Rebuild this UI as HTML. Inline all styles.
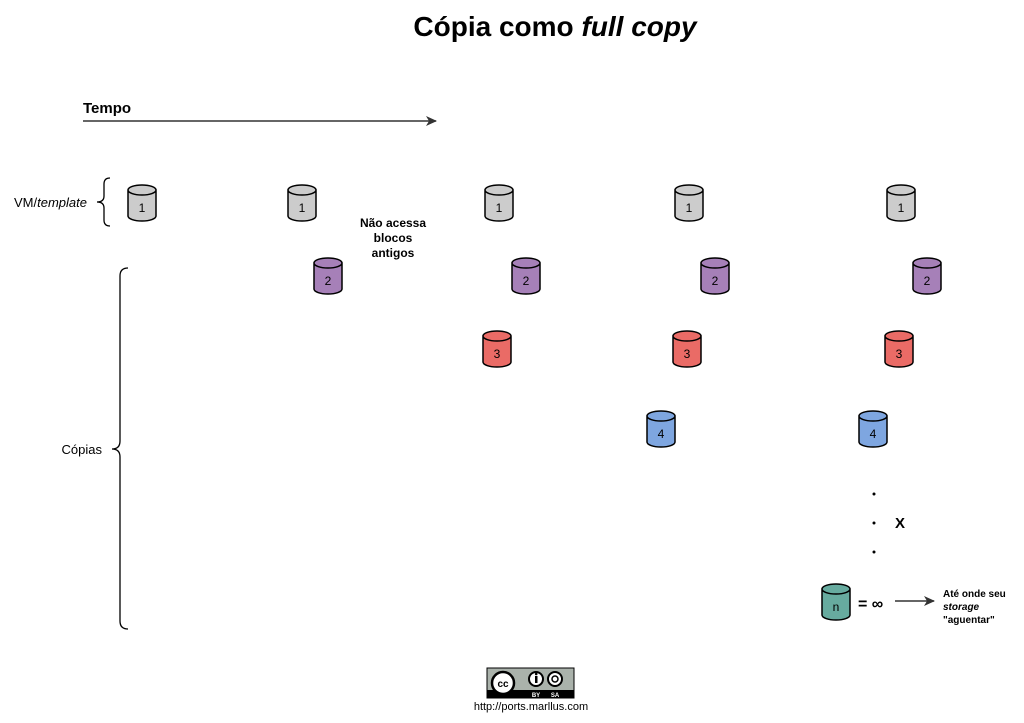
<!DOCTYPE html>
<html><head><meta charset="utf-8"><style>
html,body{margin:0;padding:0;background:#fff;}
svg{display:block;font-family:"Liberation Sans",Arial,sans-serif;}
</style></head><body>
<svg width="1024" height="723" viewBox="0 0 1024 723" xmlns="http://www.w3.org/2000/svg">
<defs>
<marker id="ah" markerWidth="12" markerHeight="10" refX="10" refY="5" orient="auto" markerUnits="userSpaceOnUse">
<path d="M0,0 L11,5 L0,10 L3,5 Z" fill="#333"/>
</marker>
</defs>
<text x="555" y="36" font-size="28" font-weight="bold" text-anchor="middle">Cópia como <tspan font-style="italic">full copy</tspan></text>
<text x="83" y="113" font-size="15" font-weight="bold">Tempo</text>
<line x1="83" y1="121" x2="436" y2="121" stroke="#333" stroke-width="1.5" marker-end="url(#ah)"/>

<text x="87" y="207" font-size="13" text-anchor="end">VM/<tspan font-style="italic">template</tspan></text>
<path d="M110,178 Q104,178 104,184 L104,196 Q104,202 97,202 Q104,202 104,208 L104,220 Q104,226 110,226" fill="none" stroke="#000" stroke-width="1.3"/>
<text x="102" y="454" font-size="13" text-anchor="end">Cópias</text>
<path d="M128,268 Q120,268 120,276 L120,441 Q120,449 112,449 Q120,449 120,457 L120,621 Q120,629 128,629" fill="none" stroke="#000" stroke-width="1.3"/>

<text font-size="12" font-weight="bold" text-anchor="middle"><tspan x="393" y="227">Não acessa</tspan><tspan x="393" y="242">blocos</tspan><tspan x="393" y="257">antigos</tspan></text>

<g stroke="#000" stroke-width="1.5" font-size="12" text-anchor="middle">
<g fill="#cccccc">
<path d="M128,190 v26 a14,5 0 0 0 28,0 v-26 a14,5 0 0 0 -28,0 a14,5 0 0 0 28,0"/>
<path d="M288,190 v26 a14,5 0 0 0 28,0 v-26 a14,5 0 0 0 -28,0 a14,5 0 0 0 28,0"/>
<path d="M485,190 v26 a14,5 0 0 0 28,0 v-26 a14,5 0 0 0 -28,0 a14,5 0 0 0 28,0"/>
<path d="M675,190 v26 a14,5 0 0 0 28,0 v-26 a14,5 0 0 0 -28,0 a14,5 0 0 0 28,0"/>
<path d="M887,190 v26 a14,5 0 0 0 28,0 v-26 a14,5 0 0 0 -28,0 a14,5 0 0 0 28,0"/>
</g>
<g fill="#a680b8">
<path d="M314,263 v26 a14,5 0 0 0 28,0 v-26 a14,5 0 0 0 -28,0 a14,5 0 0 0 28,0"/>
<path d="M512,263 v26 a14,5 0 0 0 28,0 v-26 a14,5 0 0 0 -28,0 a14,5 0 0 0 28,0"/>
<path d="M701,263 v26 a14,5 0 0 0 28,0 v-26 a14,5 0 0 0 -28,0 a14,5 0 0 0 28,0"/>
<path d="M913,263 v26 a14,5 0 0 0 28,0 v-26 a14,5 0 0 0 -28,0 a14,5 0 0 0 28,0"/>
</g>
<g fill="#ea6b66">
<path d="M483,336 v26 a14,5 0 0 0 28,0 v-26 a14,5 0 0 0 -28,0 a14,5 0 0 0 28,0"/>
<path d="M673,336 v26 a14,5 0 0 0 28,0 v-26 a14,5 0 0 0 -28,0 a14,5 0 0 0 28,0"/>
<path d="M885,336 v26 a14,5 0 0 0 28,0 v-26 a14,5 0 0 0 -28,0 a14,5 0 0 0 28,0"/>
</g>
<g fill="#7ea6e0">
<path d="M647,416 v26 a14,5 0 0 0 28,0 v-26 a14,5 0 0 0 -28,0 a14,5 0 0 0 28,0"/>
<path d="M859,416 v26 a14,5 0 0 0 28,0 v-26 a14,5 0 0 0 -28,0 a14,5 0 0 0 28,0"/>
</g>
<path fill="#67ab9f" d="M822,589 v26 a14,5 0 0 0 28,0 v-26 a14,5 0 0 0 -28,0 a14,5 0 0 0 28,0"/>
<g stroke="none" fill="#000">
<text x="142" y="212">1</text><text x="302" y="212">1</text><text x="499" y="212">1</text><text x="689" y="212">1</text><text x="901" y="212">1</text>
<text x="328" y="285">2</text><text x="526" y="285">2</text><text x="715" y="285">2</text><text x="927" y="285">2</text>
<text x="497" y="358">3</text><text x="687" y="358">3</text><text x="899" y="358">3</text>
<text x="661" y="438">4</text><text x="873" y="438">4</text>
<text x="836" y="611">n</text>
</g>
</g>
<g fill="#000">
<circle cx="874" cy="494" r="1.5"/><circle cx="874" cy="523" r="1.5"/><circle cx="874" cy="552" r="1.5"/>
</g>
<text x="900" y="528" font-size="15" font-weight="bold" text-anchor="middle">X</text>
<text x="858" y="609" font-size="16" font-weight="bold">= ∞</text>
<line x1="895" y1="601" x2="934" y2="601" stroke="#333" stroke-width="1.5" marker-end="url(#ah)"/>
<text font-size="10" font-weight="bold"><tspan x="943" y="597">Até onde seu</tspan><tspan x="943" y="610" font-style="italic">storage</tspan><tspan x="943" y="623">"aguentar"</tspan></text>

<rect x="487" y="668" width="87" height="30" fill="#aab2ab" stroke="#000" stroke-width="1"/>
<rect x="487" y="690" width="87" height="8" fill="#000"/>
<circle cx="503" cy="683" r="11" fill="#fff" stroke="#000" stroke-width="2.5"/>
<text x="503" y="687" font-size="10" font-weight="bold" text-anchor="middle">cc</text>
<circle cx="536" cy="679" r="7" fill="#fff" stroke="#000" stroke-width="2"/>
<rect x="535" y="676" width="2.5" height="7" fill="#000"/><circle cx="536.2" cy="674" r="1.3" fill="#000"/>
<circle cx="555" cy="679" r="7" fill="#fff" stroke="#000" stroke-width="2"/>
<circle cx="555" cy="679" r="3" fill="none" stroke="#000" stroke-width="1.5"/>
<text x="536" y="697" font-size="6" fill="#fff" font-weight="bold" text-anchor="middle">BY</text>
<text x="555" y="697" font-size="6" fill="#fff" font-weight="bold" text-anchor="middle">SA</text>
<text x="531" y="710" font-size="11" text-anchor="middle">http://ports.marllus.com</text>
</svg>
</body></html>
